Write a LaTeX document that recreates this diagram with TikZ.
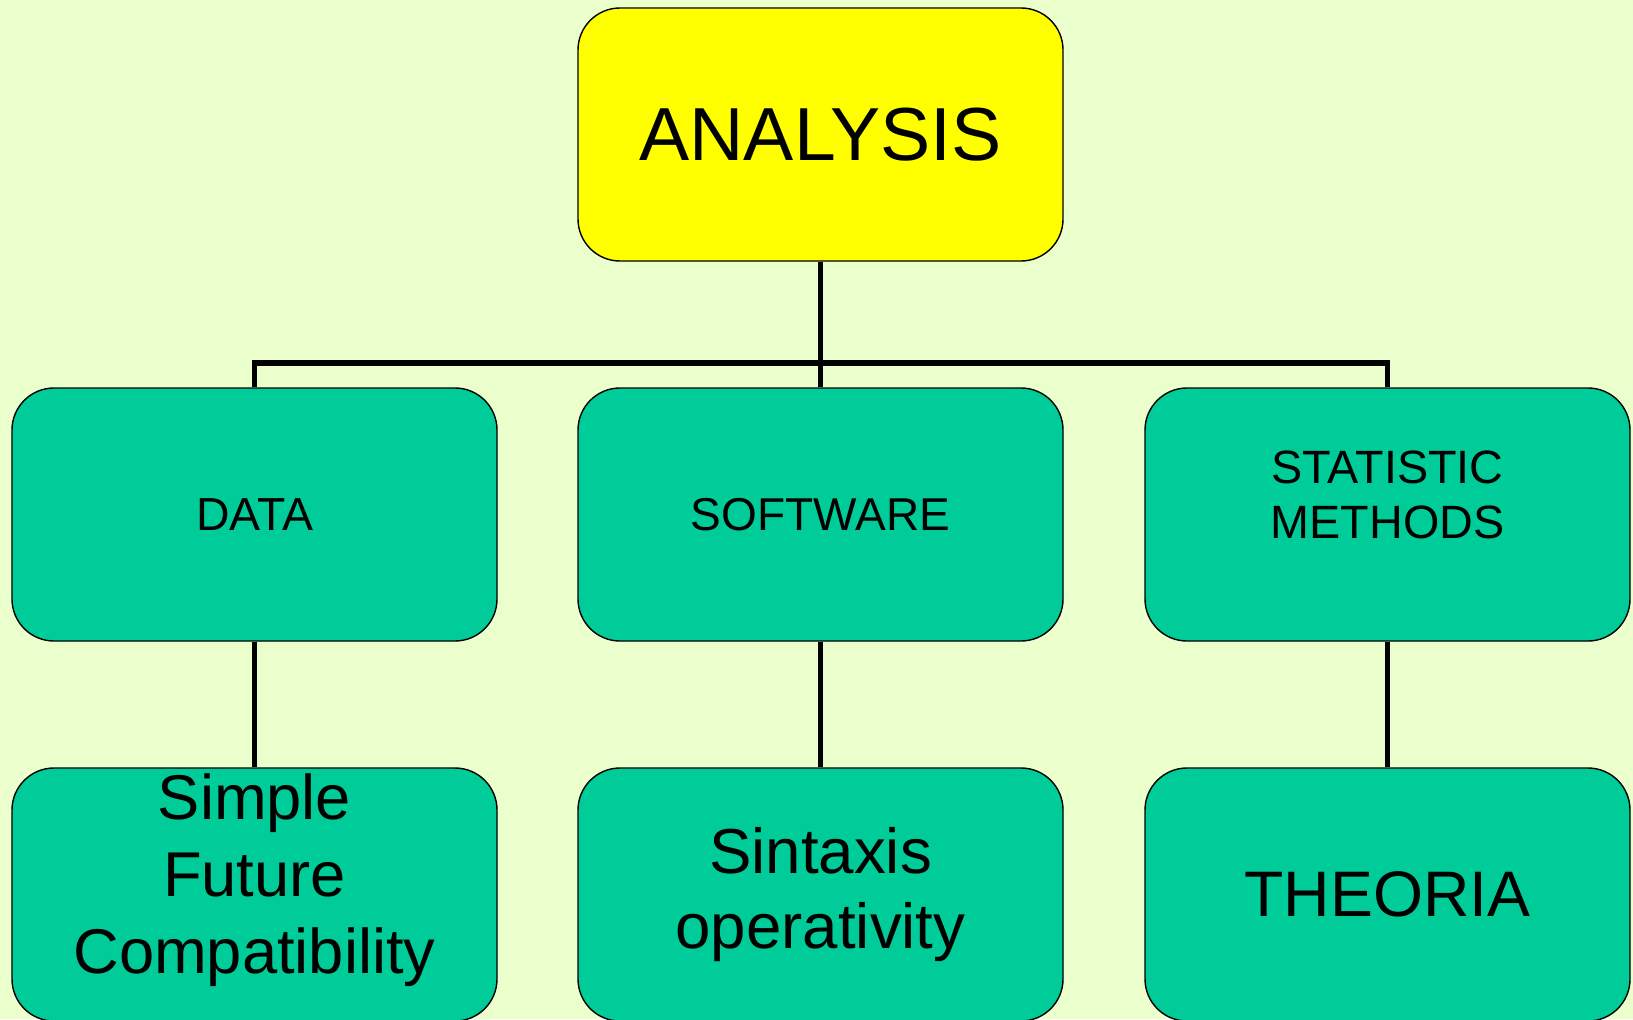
\documentclass[tikz,border=0pt]{standalone}
\usepackage{fontspec}
\setmainfont{Liberation Sans}
\definecolor{bg}{RGB}{234,255,204}
\definecolor{yl}{RGB}{255,255,0}
\definecolor{gr}{RGB}{0,204,153}
\newcommand{\boxfont}[2]{\fontsize{#1}{#2}\selectfont}

\begin{document}
\begin{tikzpicture}[
	box/.style={draw=black, line width=0.8pt, rounded corners=0.84cm, minimum width=9.7cm, minimum height=5.06cm, align=center, inner sep=0pt},
	conn/.style={line width=3.1pt}
	]

			\useasboundingbox (0,0) rectangle (32.66,-20.38);
			\fill[bg] (0,0) rectangle (32.66,-20.38);

			\node[box, fill=yl, font=\boxfont{42.8pt}{50pt}] (analysis) at (16.41,-2.69) {ANALYSIS};

			\node[box, fill=gr, font=\boxfont{26.4pt}{31.3pt}] (data) at (5.09,-10.29) {DATA};
			\node[box, fill=gr, font=\boxfont{26.2pt}{31.3pt}] (software) at (16.41,-10.29) {SOFTWARE};
			\node[box, fill=gr] (statistic) at (27.75,-10.29) {};
			\node[align=center, inner sep=0pt, font=\boxfont{26.6pt}{31.3pt}] (statistictext) at (27.75,-9.9) {STATISTIC\\METHODS};

			\node[box, fill=gr] (simple) at (5.09,-17.89) {};
			\node[align=center, inner sep=0pt, font=\boxfont{36pt}{43.8pt}] (simpletext) at (5.09,-17.6) {Simple\\Future\\Compatibility};
			\node[box, fill=gr, font=\boxfont{36.2pt}{43pt}] (sintaxis) at (16.41,-17.89) {Sintaxis\\operativity};
			\node[box, fill=gr, font=\boxfont{36.6pt}{42pt}] (theoria) at (27.75,-17.89) {THEORIA};

			\coordinate (bus) at (0,-7.26);

			\draw[conn] (analysis.south) -- (analysis.south |- bus);
			\draw[conn] (data.north) -- (data.north |- bus) -- (statistic.north |- bus) -- (statistic.north);
			\draw[conn] (software.north) -- (software.north |- bus);

			\draw[conn] (data.south) -- (simple.north);
			\draw[conn] (software.south) -- (sintaxis.north);
			\draw[conn] (statistic.south) -- (theoria.north);

		\end{tikzpicture}
\end{document}
